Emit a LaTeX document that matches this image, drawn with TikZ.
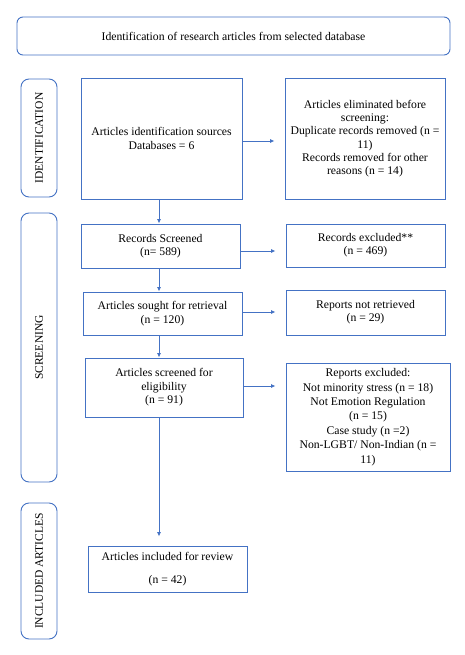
\documentclass[tikz,border=0pt]{standalone}
\usepackage{fontspec}
\setmainfont{Liberation Serif}
\usetikzlibrary{arrows.meta}
\definecolor{bord}{HTML}{4472C4}
\tikzset{
  box/.style={draw=bord, line width=0.9pt, align=center, inner sep=1pt, font=\fontsize{11.7}{13.3}\selectfont, text=black},
  sidebox/.style={draw=bord, line width=0.9pt, rounded corners=8pt, minimum width=36pt, inner sep=0pt},
  sidelabel/.style={rotate=90, font=\fontsize{11.5}{12}\selectfont, text=black},
  arr/.style={draw=bord, line width=0.9pt, -{Latex[length=4.5pt,width=4pt]}}
}
\begin{document}
\begin{tikzpicture}[x=1pt,y=-1pt]
\useasboundingbox[fill=white] (0,0) rectangle (465,655);
% top
\node[box, rounded corners=6pt, minimum width=433pt, minimum height=38pt] (top) at (233.5,36) {Identification of research articles from selected database};
% side boxes
\node[sidebox, minimum height=118pt] (idside) at (39,138) {};
\node[sidelabel] (idlab) at (idside.center) {IDENTIFICATION};
\node[sidebox, minimum height=269pt] (scrside) at (39,347.5) {};
\node[sidelabel] (scrlab) at (scrside.center) {SCREENING};
\node[sidebox, minimum height=136pt] (incside) at (39,571) {};
\node[sidelabel] (inclab) at (incside.center) {INCLUDED ARTICLES};
% left column
\node[box, minimum width=161pt, minimum height=121pt] (idmain) at (161.5,138.5) {Articles identification sources\\Databases = 6};
\node[box, minimum width=159pt, minimum height=44pt] (rs) at (160.5,246) {Records Screened\\(n= 589)};
\node[box, minimum width=159pt, minimum height=43pt] (asr) at (162.5,313.5) {Articles sought for retrieval\\(n = 120)};
\node[box, minimum width=158pt, minimum height=59pt, font=\fontsize{11.7}{13.5}\selectfont] (ase) at (164,387.5) {Articles screened for\\eligibility\\(n = 91)};
\node[box, minimum width=159pt, minimum height=46pt, font=\fontsize{11.7}{23}\selectfont] (inc) at (167.5,569) {Articles included for review\\(n = 42)};
% right column
\node[box, minimum width=160pt, minimum height=121pt] (idright) at (365,138.5) {Articles eliminated before\\screening:\\Duplicate records removed (n =\\11)\\Records removed for other\\reasons (n = 14)};
\node[box, minimum width=159pt, minimum height=43pt] (rex) at (365.5,245.5) {Records excluded**\\(n = 469)};
\node[box, minimum width=159pt, minimum height=45pt] (rnr) at (365.5,312.5) {Reports not retrieved\\(n = 29)};
\node[box, minimum width=164pt, minimum height=108pt, font=\fontsize{11.7}{14.4}\selectfont] (rex2) at (368,417) {Reports excluded:\\Not minority stress (n = 18)\\Not Emotion Regulation\\(n = 15)\\Case study (n =2)\\Non-LGBT/ Non-Indian (n =\\11)};
% helper coordinates
\coordinate (vx) at (159,0);
\coordinate (h1) at (0,141);
\coordinate (h2) at (0,251);
\coordinate (h3) at (0,312);
\coordinate (h4) at (0,386);
% vertical arrows
\draw[arr] (idmain.south -| vx) -- (rs.north -| vx);
\draw[arr] (rs.south -| vx) -- (asr.north -| vx);
\draw[arr] (asr.south -| vx) -- (ase.north -| vx);
\draw[arr, shorten >=9pt] (ase.south -| vx) -- (inc.north -| vx);
% horizontal arrows
\draw[arr, shorten >=10pt] (idmain.east |- h1) -- (idright.west |- h1);
\draw[arr, shorten >=10pt] (rs.east |- h2) -- (rex.west |- h2);
\draw[arr, shorten >=10pt] (asr.east |- h3) -- (rnr.west |- h3);
\draw[arr, shorten >=10pt] (ase.east |- h4) -- (rex2.west |- h4);
\end{tikzpicture}
\end{document}
